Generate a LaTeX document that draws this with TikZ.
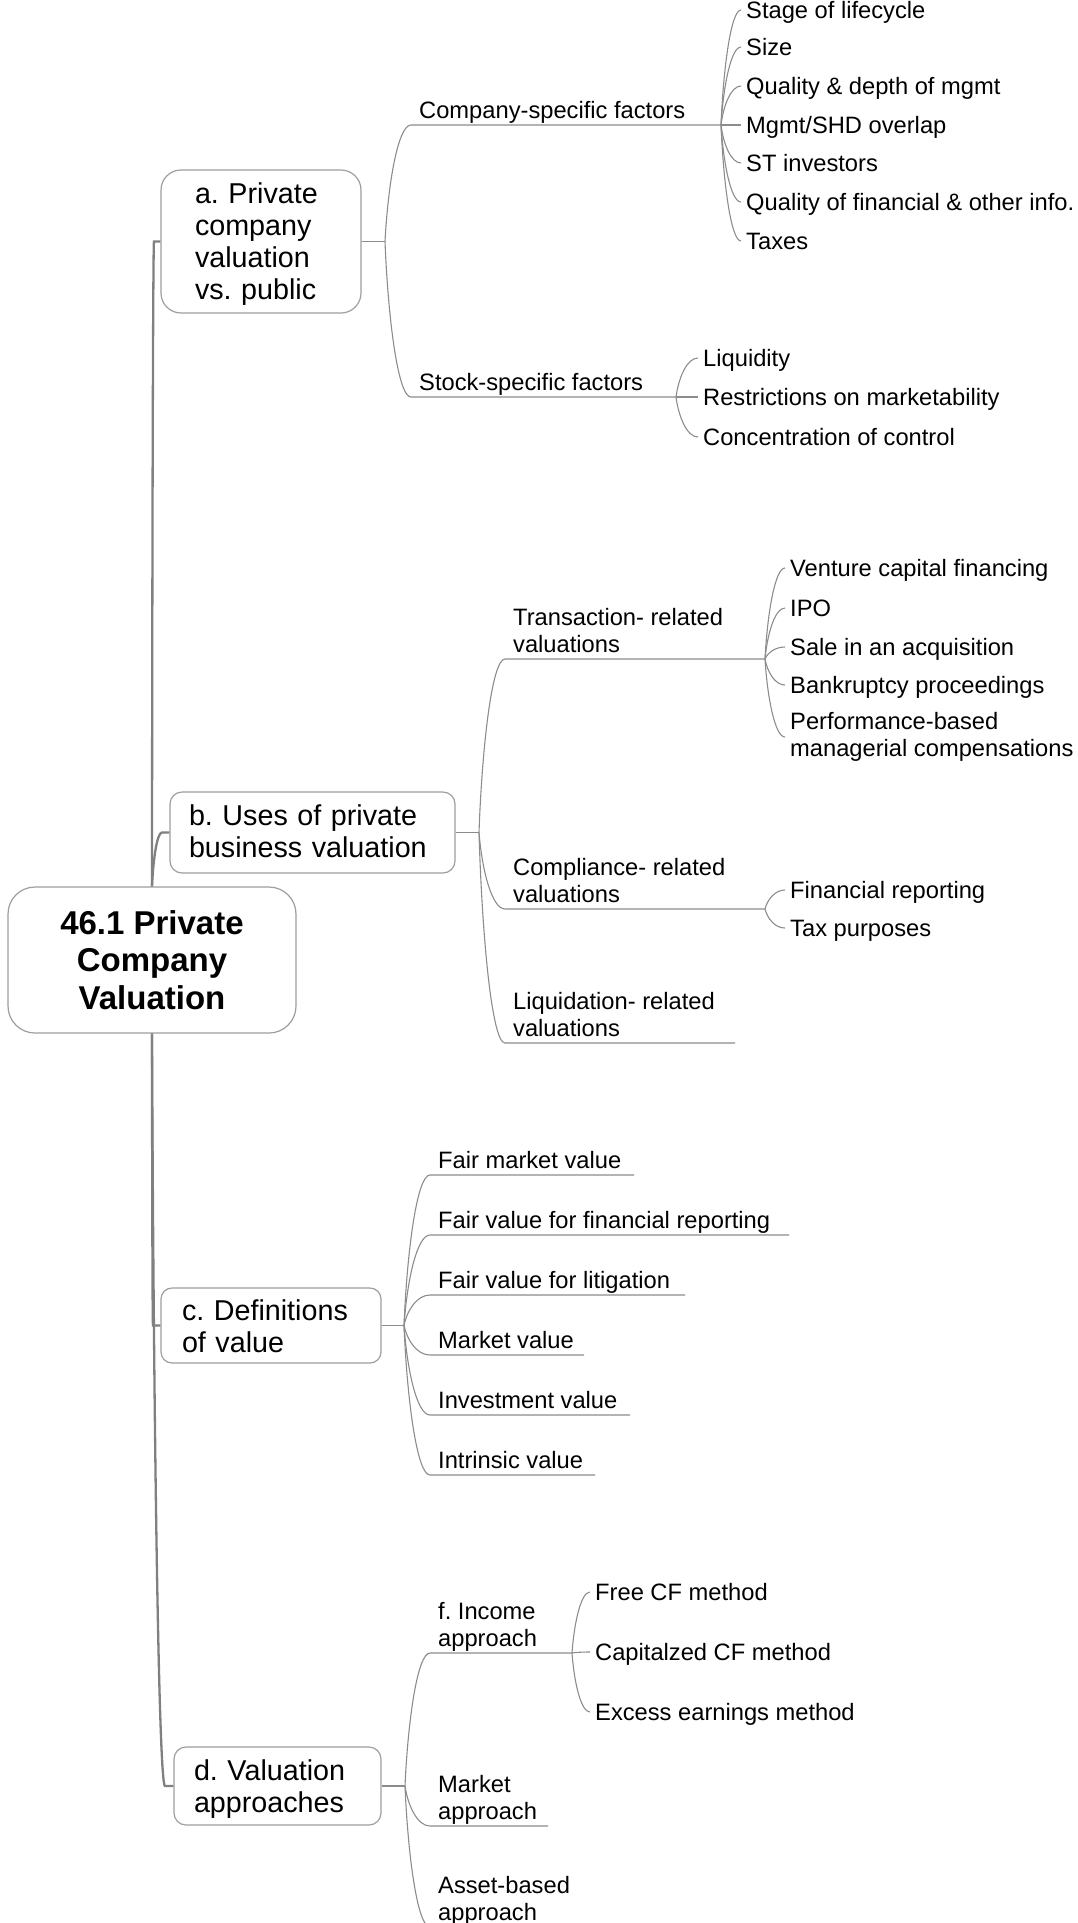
\documentclass[tikz,border=0pt]{standalone}
\usepackage{fontspec}
\setmainfont{Liberation Sans}
\usetikzlibrary{calc}
\frenchspacing

\definecolor{trunkc}{HTML}{808080}
\definecolor{linec}{HTML}{8C8C8C}
\definecolor{boxc}{HTML}{9E9E9E}

\newcommand{\fsmall}{\fontsize{23.7}{27}\selectfont}
\newcommand{\fmid}{\fontsize{28.7}{32}\selectfont}
\newcommand{\froot}{\fontsize{33}{37.5}\selectfont\bfseries}
\newcommand{\twolines}[2]{\vbox{\hbox{#1}\hbox{#2}}}

\tikzset{
  % mind-map branch: leaves the fork almost vertically, enters the child horizontally
  br/.style={to path={let \p1=(\tikztostart), \p2=(\tikztotarget) in
      .. controls ({\x1+0.12*(\x2-\x1)},{\y1+0.5*(\y2-\y1)}) and ({\x1+0.5*(\x2-\x1)},\y2) .. (\tikztotarget)}},
  trunk/.style={draw=trunkc, line width=2.3pt},
  sub/.style={draw=linec, line width=1.1pt},
  box/.style={draw=boxc, line width=1.2pt, fill=white, align=left, font=\fmid, inner sep=0pt,
      text height=21pt},
  rootbox/.style={draw=boxc, line width=1.2pt, fill=white, align=center, font=\froot,
      minimum width=288, minimum height=146, rounded corners=27},
  l2/.style={anchor=base west, inner sep=0pt, font=\fsmall, xshift=8pt, yshift=7pt},
  leafbase/.style={anchor=west, inner xsep=5pt, inner ysep=0pt, font=\fsmall},
  leaf/.style={leafbase, text height=17.8pt, text depth=1.2pt},
}

\begin{document}
\begin{tikzpicture}[x=1pt, y=-1pt]
\useasboundingbox (0,0) rectangle (1078,1923);
\clip (0,0) rectangle (1078,1923);

% ---------- central topic and main topics ----------
\node[rootbox] (root) at (152,960) {46.1 Private\\Company\\Valuation};
\node[box, minimum width=200, minimum height=143, text width=132, rounded corners=20,
      text depth=98pt]
  (ba) at (261,241.5) {a. Private\\company\\valuation\\vs. public};
\node[box, minimum width=285, minimum height=81, text width=247, rounded corners=12,
      text depth=36pt]
  (bb) at (312.5,832.5) {b. Uses of private\\business valuation};
\node[box, minimum width=220, minimum height=75, text width=178, rounded corners=11,
      text depth=32pt]
  (bc) at (271,1325.5) {c. Definitions\\of value};
\node[box, minimum width=207, minimum height=78, text width=167, rounded corners=12,
      text depth=33pt]
  (bd) at (277.5,1786) {d. Valuation\\approaches};

% bends of the main branches and forks behind the main topics
\coordinate (tA) at (154,241.5);
\coordinate (tB) at (162,832.5);
\coordinate (tC) at (153,1325.5);
\coordinate (tD) at (165,1786);
\coordinate (fA) at (385,241.5);
\coordinate (fB) at (479,832.5);
\coordinate (fC) at (404,1325.5);
\coordinate (fD) at (405,1786);

\draw[trunk] (root.north) to[br] (tA) -- (ba.west);
\draw[trunk] (root.north) to[br] (tB) -- (bb.west);
\draw[trunk] (root.south) to[br] (tC) -- (bc.west);
\draw[trunk] (root.south) to[br] (tD) -- (bd.west);

\draw[sub] (ba.east) -- (fA);
\draw[sub] (bb.east) -- (fB);
\draw[sub] (bc.east) -- (fC);
\draw[sub] (bd.east) -- (fD);

% ---------- a. private vs. public ----------
\coordinate (uCo) at (411,125);  \coordinate (sCo) at (721,125);
\coordinate (uSt) at (411,397);  \coordinate (sSt) at (676,397);
\node[l2] (nCo) at (uCo) {Company-specific factors};
\node[l2] (nSt) at (uSt) {Stock-specific factors};
\draw[sub] (fA) to[br] (uCo) -- (sCo);
\draw[sub] (fA) to[br] (uSt) -- (sSt);

\node[leaf] (cA1) at (741,10)  {Stage of lifecycle};
\node[leaf] (cA2) at (741,47)  {Size};
\node[leaf] (cA3) at (741,86)  {Quality \& depth of mgmt};
\node[leaf] (cA4) at (741,125) {Mgmt/SHD overlap};
\node[leaf] (cA5) at (741,163) {ST investors};
\node[leaf] (cA6) at (741,202) {Quality of financial \& other info.};
\node[leaf] (cA7) at (741,241) {Taxes};
\foreach \k in {cA1,cA2,cA3,cA4,cA5,cA6,cA7}
  \draw[sub] (sCo) to[br] (\k.west);

\node[leaf] (sA1) at (698,358) {Liquidity};
\node[leaf] (sA2) at (698,397) {Restrictions on marketability};
\node[leaf] (sA3) at (698,437) {Concentration of control};
\foreach \k in {sA1,sA2,sA3}
  \draw[sub] (sSt) to[br] (\k.west);

% ---------- b. uses of valuation ----------
\coordinate (uTr) at (505,659);   \coordinate (sTr) at (765,659);
\coordinate (uCm) at (505,909);   \coordinate (sCm) at (765,909);
\coordinate (uLq) at (505,1043);  \coordinate (eLq) at (735,1043);
\node[l2] (nTr) at (uTr) {\twolines{Transaction- related}{valuations}};
\node[l2] (nCm) at (uCm) {\twolines{Compliance- related}{valuations}};
\node[l2] (nLq) at (uLq) {\twolines{Liquidation- related}{valuations}};
\draw[sub] (fB) to[br] (uTr) -- (sTr);
\draw[sub] (fB) to[br] (uCm) -- (sCm);
\draw[sub] (fB) to[br] (uLq) -- (eLq);

\node[leaf] (tB1) at (785,568) {Venture capital financing};
\node[leaf] (tB2) at (785,608) {IPO};
\node[leaf] (tB3) at (785,647) {Sale in an acquisition};
\node[leaf] (tB4) at (785,685) {Bankruptcy proceedings};
\node[leafbase] (tB5) at (785,737) {\twolines{Performance-based}{managerial compensations}};
\foreach \k in {tB1,tB2,tB3,tB4,tB5}
  \draw[sub] (sTr) to[br] (\k.west);

\node[leaf] (cB1) at (785,890) {Financial reporting};
\node[leaf] (cB2) at (785,928) {Tax purposes};
\foreach \k in {cB1,cB2}
  \draw[sub] (sCm) to[br] (\k.west);

% ---------- c. definitions of value ----------
\coordinate (uC1) at (430,1175); \coordinate (eC1) at (634,1175);
\coordinate (uC2) at (430,1235); \coordinate (eC2) at (789,1235);
\coordinate (uC3) at (430,1295); \coordinate (eC3) at (685,1295);
\coordinate (uC4) at (430,1355); \coordinate (eC4) at (584,1355);
\coordinate (uC5) at (430,1415); \coordinate (eC5) at (630,1415);
\coordinate (uC6) at (430,1475); \coordinate (eC6) at (595,1475);
\node[l2] (nC1) at (uC1) {Fair market value};
\node[l2] (nC2) at (uC2) {Fair value for financial reporting};
\node[l2] (nC3) at (uC3) {Fair value for litigation};
\node[l2] (nC4) at (uC4) {Market value};
\node[l2] (nC5) at (uC5) {Investment value};
\node[l2] (nC6) at (uC6) {Intrinsic value};
\foreach \k in {1,...,6}
  \draw[sub] (fC) to[br] (uC\k) -- (eC\k);

% ---------- d. valuation approaches ----------
\coordinate (uIn) at (430,1653);  \coordinate (sIn) at (572,1653);
\coordinate (uMk) at (430,1826);  \coordinate (eMk) at (548,1826);
\coordinate (uAs) at (430,1927);  \coordinate (eAs) at (584,1927);
\node[l2] (nIn) at (uIn) {\twolines{f. Income}{approach}};
\node[l2] (nMk) at (uMk) {\twolines{Market}{approach}};
\node[l2] (nAs) at (uAs) {\twolines{Asset-based}{approach}};
\draw[sub] (fD) to[br] (uIn) -- (sIn);
\draw[sub] (fD) to[br] (uMk) -- (eMk);
\draw[sub] (fD) to[br] (uAs) -- (eAs);

\node[leaf] (iD1) at (590,1592) {Free CF method};
\node[leaf] (iD2) at (590,1652) {Capitalzed CF method};
\node[leaf] (iD3) at (590,1712) {Excess earnings method};
\foreach \k in {iD1,iD2,iD3}
  \draw[sub] (sIn) to[br] (\k.west);
\end{tikzpicture}
\end{document}
